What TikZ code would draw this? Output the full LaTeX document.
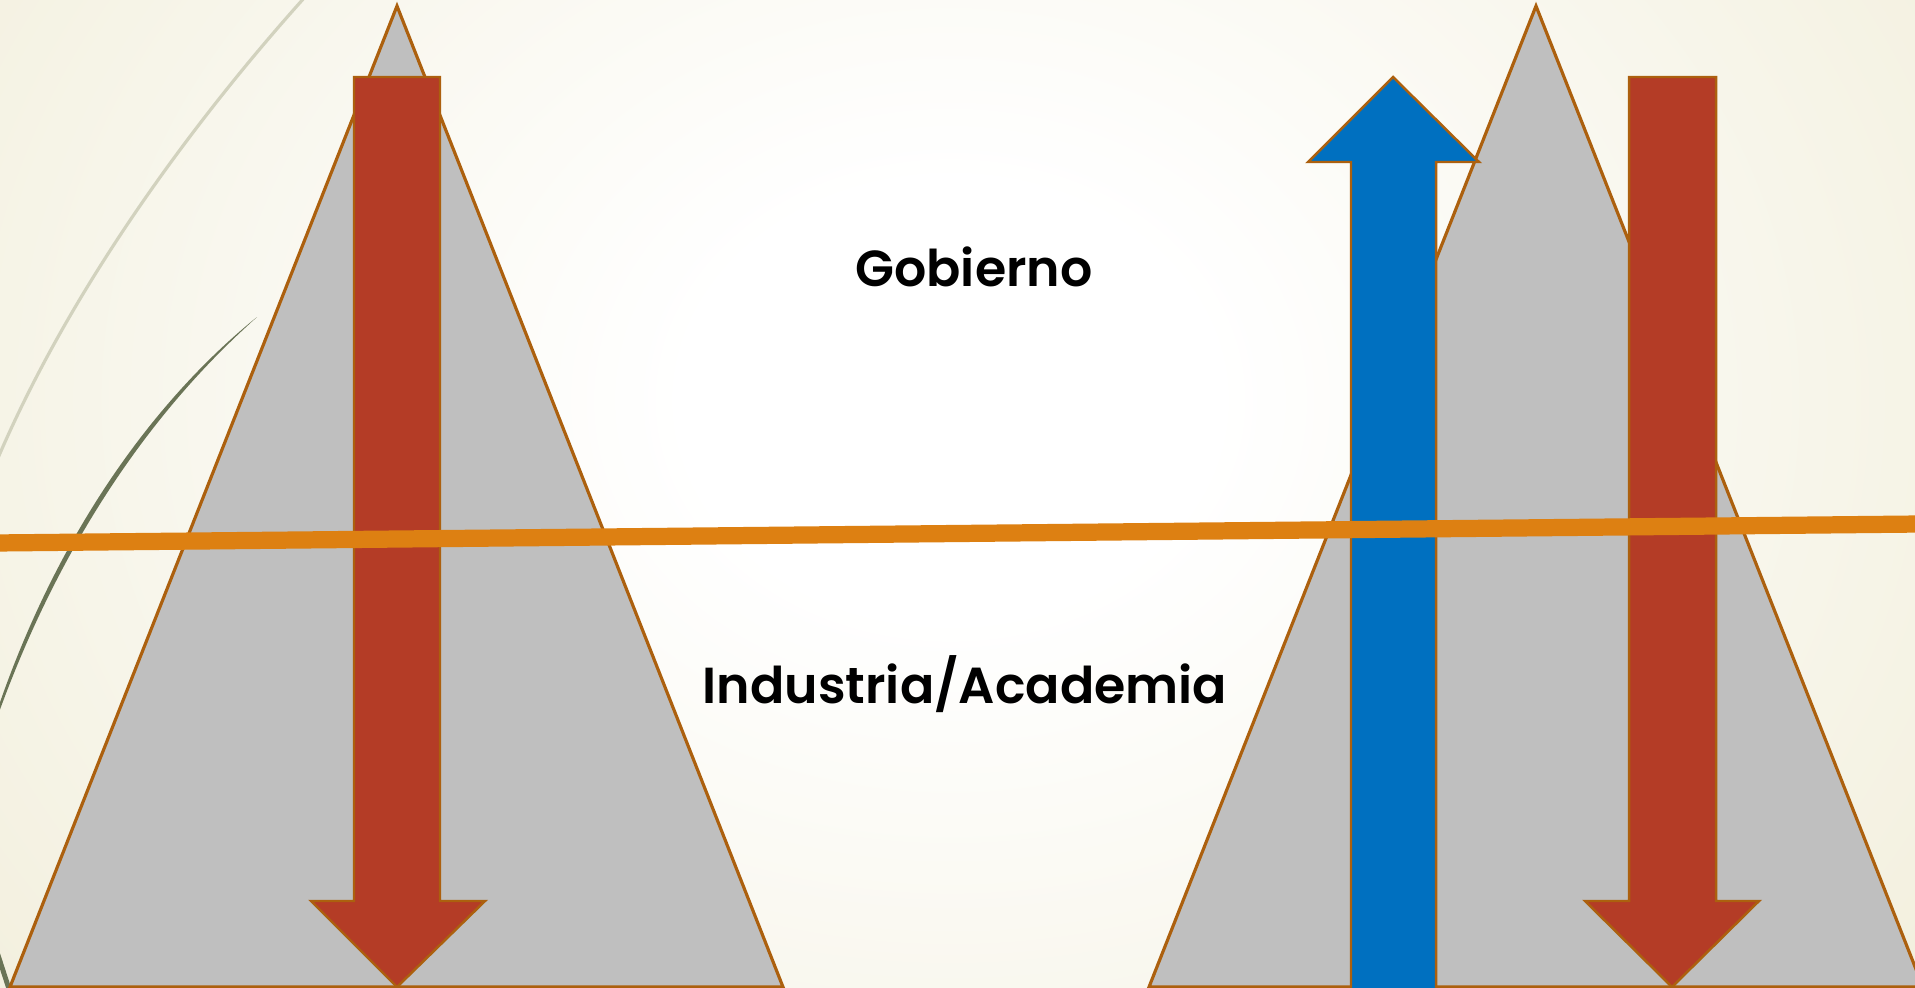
\documentclass[tikz,border=0pt]{standalone}
\usepackage{fontspec}
\newfontfamily\pop{Poppins SemiBold}
\definecolor{bgb}{RGB}{235,230,201}
\definecolor{trigray}{RGB}{191,191,191}
\definecolor{outl}{RGB}{172,96,14}
\definecolor{redarr}{RGB}{180,60,38}
\definecolor{bluearr}{RGB}{0,112,192}
\definecolor{orng}{RGB}{221,128,18}
\definecolor{lightcurve}{RGB}{210,210,190}
\definecolor{darkcurve}{RGB}{106,116,86}
\pgfdeclareradialshading{bgshade}{\pgfpoint{0bp}{0bp}}{color(0bp)=(white); color(6bp)=(white); color(41bp)=(bgb); color(100bp)=(bgb)}
\tikzset{
  tri/.style={fill=trigray, draw=outl, line width=0.9pt, line join=miter},
  arr/.style={draw=outl, line width=0.7pt, line join=miter},
  lbl/.style={font=\pop\fontsize{14.4}{17}\selectfont, inner sep=0pt, text=black}
}
\begin{document}
\begin{tikzpicture}[x=0.01cm,y=-0.01cm]
\useasboundingbox (0,0) rectangle (1915,988);
\begin{scope}
\clip (0,0) rectangle (1915,988);
\shade[shading=bgshade] (-150,-500) rectangle (2050,1300);
% decorative curves
\draw[lightcurve, line width=0.9pt] (305,-3) .. controls (190,125) and (70,290) .. (-2,458);
\fill[darkcurve] (257,317) .. controls (210,355) and (80,470) .. (-2,708) -- (-2,715) .. controls (85,474) and (213,357) .. (257,317) -- cycle;
\draw[darkcurve, line width=1.4pt] (-3,952) -- (10,992);
% mountains
\draw[tri] (397,6) -- (783,987) -- (10,987) -- cycle;
\draw[tri] (1536,6) -- (1923,987) -- (1149,987) -- cycle;
% arrows
\draw[arr, fill=redarr] (354,77) -- (440,77) -- (440,901) -- (485,901) -- (397,987) -- (311,901) -- (354,901) -- cycle;
\draw[arr, fill=redarr] (1629,77) -- (1716,77) -- (1716,901) -- (1759,901) -- (1672,987) -- (1585,901) -- (1629,901) -- cycle;
\draw[arr, fill=bluearr] (1393,77) -- (1479,162) -- (1436,162) -- (1436,992) -- (1351,992) -- (1351,162) -- (1308,162) -- cycle;
% orange line
\draw[orng, line width=4.9pt] (-5,543) -- (1920,524);
\end{scope}
\node[lbl, anchor=base] (gob) at (974,286) {Gobierno};
\node[lbl, anchor=base] (ind) at (965,703) {Industria/Academia};
\end{tikzpicture}
\end{document}
